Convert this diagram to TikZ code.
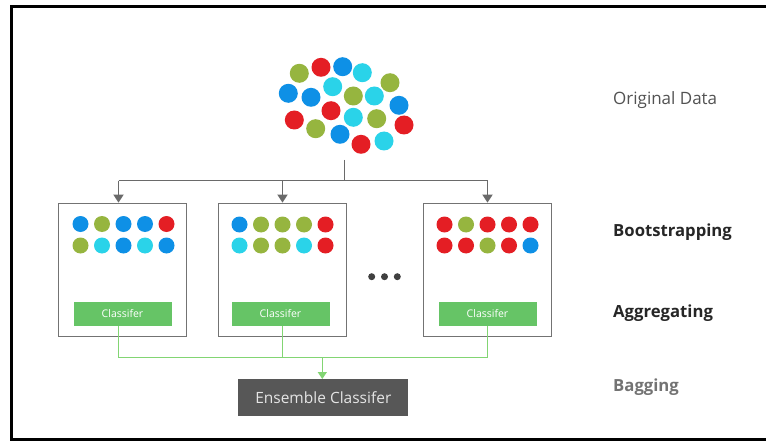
\documentclass[tikz,border=0pt]{standalone}
\usepackage{fontspec}
\setmainfont{Open Sans}
\usetikzlibrary{arrows.meta,calc}
\definecolor{cred}{HTML}{E41E24}
\definecolor{cblue}{HTML}{0E90E6}
\definecolor{ccyan}{HTML}{2AD3E9}
\definecolor{cgreen}{HTML}{96B53F}
\definecolor{linegray}{HTML}{6A6A6A}
\definecolor{boxgray}{HTML}{737373}
\definecolor{clsgreen}{HTML}{66C466}
\definecolor{lgreen}{HTML}{82D573}
\definecolor{ensgray}{HTML}{575757}
\tikzset{
  ball/.style={circle,inner sep=0pt,minimum size=19pt,fill=#1},
  sball/.style={circle,inner sep=0pt,minimum size=16pt,fill=#1},
  bagbox/.style={draw=boxgray,line width=1.8pt,minimum width=128pt,minimum height=133pt,inner sep=0pt},
  clsbox/.style={fill=clsgreen,minimum width=98pt,minimum height=24pt,inner sep=0pt,text=white,font=\fontsize{10.5}{12}\selectfont},
  treeline/.style={draw=linegray,line width=1.8pt},
  treearrow/.style={treeline,-{Triangle[length=8pt,width=10pt]}},
  greenline/.style={draw=lgreen,line width=1.5pt},
  greenarrow/.style={greenline,-{Triangle[length=7pt,width=9pt]}},
  stagelbl/.style={anchor=west,inner sep=0pt,font=\fontsize{17}{20}\selectfont},
  boldlbl/.style={anchor=west,inner sep=0pt,font=\fontsize{16.7}{20}\selectfont\bfseries},
  dot/.style={circle,inner sep=0pt,minimum size=7pt,fill=#1}
}
\begin{document}
\begin{tikzpicture}[x=1pt,y=-1pt]
\useasboundingbox (0,0) rectangle (766,441);
\fill[white] (0,0) rectangle (766,441);
% outer frame
\draw[black,line width=3pt] (766,6.5) -- (11.5,6.5) -- (11.5,439.5) -- (766,439.5);

% original data cluster
\node[ball=cgreen] (o1) at (299.3,73.3) {};
\node[ball=cred]   (o2) at (321,67.3) {};
\node[ball=cblue]  (o3) at (342.7,66.7) {};
\node[ball=ccyan]  (o4) at (362.3,72.7) {};
\node[ball=cgreen] (o5) at (390,82.7) {};
\node[ball=cblue]  (o6) at (288.3,93.3) {};
\node[ball=cblue]  (o7) at (311,97.3) {};
\node[ball=ccyan]  (o8) at (332.7,86.7) {};
\node[ball=cgreen] (o9) at (353.3,96) {};
\node[ball=ccyan]  (o10) at (374.3,96) {};
\node[ball=cblue]  (o11) at (399,105.3) {};
\node[ball=cred]   (o12) at (294.3,120) {};
\node[ball=cred]   (o13) at (331,110.7) {};
\node[ball=ccyan]  (o14) at (353.3,117.3) {};
\node[ball=cgreen] (o15) at (376.7,118.7) {};
\node[ball=cred]   (o16) at (404,125) {};
\node[ball=cgreen] (o17) at (315.7,128.7) {};
\node[ball=cblue]  (o18) at (340,134.3) {};
\node[ball=cred]   (o19) at (361,144.3) {};
\node[ball=ccyan]  (o20) at (384,141) {};
\coordinate (src) at (344.5,160);
\coordinate (split) at (344.5,181);

% bootstrap boxes
\node[bagbox] (b1) at (122.5,270) {};
\node[bagbox] (b2) at (282.5,270) {};
\node[bagbox] (b3) at (487.5,270) {};

% tree arrows
\coordinate (t1) at ($(b1.north)+(-4,-22)$);
\coordinate (t1e) at ($(b1.north)+(-4,0)$);
\coordinate (t2) at ($(b2.north)+(0,-22)$);
\coordinate (t3) at ($(b3.north)+(0,-22)$);
\draw[treeline] (src) -- (split);
\draw[treeline] (t1) -- (t3);
\draw[treearrow] (t1) -- (t1e);
\draw[treearrow] (t2) -- (b2.north);
\draw[treearrow] (t3) -- (b3.north);

% samples in box 1
\foreach \c [count=\i] in {cblue,cgreen,cblue,cblue,cred}
  \node[sball=\c] (s1a\i) at (123.5-64.5+21.5*\i,224) {};
\foreach \c [count=\i] in {cgreen,ccyan,cblue,ccyan,cblue}
  \node[sball=\c] (s1b\i) at (123.5-64.5+21.5*\i,245.5) {};
% box 2
\foreach \c [count=\i] in {cblue,cgreen,cgreen,cgreen,cred}
  \node[sball=\c] (s2a\i) at (282.5-64.5+21.5*\i,224.5) {};
\foreach \c [count=\i] in {ccyan,cgreen,cgreen,ccyan,cred}
  \node[sball=\c] (s2b\i) at (282.5-64.5+21.5*\i,245.5) {};
% box 3
\foreach \c [count=\i] in {cred,cgreen,cred,cred,cred}
  \node[sball=\c] (s3a\i) at (487.5-64.5+21.5*\i,224.5) {};
\foreach \c [count=\i] in {cred,cred,cgreen,cred,cblue}
  \node[sball=\c] (s3b\i) at (487.5-64.5+21.5*\i,245.5) {};

% dots
\node[dot=black!75] (d1) at (371.7,276.7) {};
\node[dot=black!75] (d2) at (384.5,276.7) {};
\node[dot=black!75] (d3) at (397.3,276.7) {};

% classifiers
\node[clsbox] (c1) at (122.5,313.7) {Classifer};
\node[clsbox] (c2) at (280.5,313.7) {Classifer};
\node[clsbox] (c3) at (487.5,313.7) {Classifer};

% ensemble
\node[fill=ensgray,minimum width=170pt,minimum height=37pt,inner sep=0pt,text=white!90!black,font=\fontsize{15.5}{18}\selectfont] (ens) at (323.3,397.7) {Ensemble Classifer};

% green aggregation lines
\coordinate (g1) at (118.3,357.3);
\coordinate (g3) at (487.3,357.3);
\coordinate (gm) at (322.3,357.3);
\coordinate (c1b) at ($(c1.south)+(-4.2,0)$);
\coordinate (c2b) at ($(c2.south)+(2.2,0)$);
\coordinate (c3b) at ($(c3.south)+(-0.2,0)$);
\draw[greenline] (c1b) -- (g1) -- (g3) -- (c3b);
\draw[greenline] (c2b) -- (c2b |- g1);
\draw[greenarrow] (gm) -- (ens.north -| gm);

% stage labels
\node[stagelbl,text=black!68] (l1) at (613,100) {Original Data};
\node[boldlbl,text=black!85] (l2) at (613,231.7) {Bootstrapping};
\node[boldlbl,text=black!85] (l3) at (613,312.7) {Aggregating};
\node[boldlbl,text=black!55] (l4) at (613,386.7) {Bagging};
\end{tikzpicture}
\end{document}
